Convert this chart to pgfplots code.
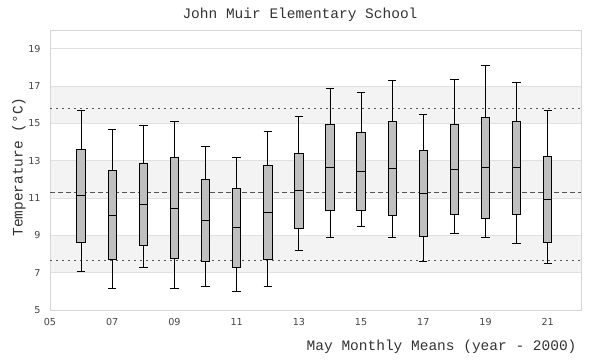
\documentclass[border=0pt]{standalone}
\usepackage{pgfplots}
\pgfplotsset{compat=1.18}
\usepgfplotslibrary{statistics}
\usepackage{fontspec}
\setmainfont{DejaVu Sans}
\newfontfamily\monof{Liberation Mono}
\newfontfamily\tickf{DejaVu Sans}
\definecolor{bandc}{HTML}{F3F3F3}
\definecolor{gridc}{HTML}{E0E0E0}
\definecolor{framec}{HTML}{D6D6D6}
\definecolor{boxc}{HTML}{BFBFBF}
\definecolor{refc}{HTML}{555555}
\definecolor{txtc}{HTML}{333333}
\definecolor{tickc}{HTML}{444444}
\pgfplotsset{
  mybox/.style n args={6}{
    boxplot prepared={
      draw position=#1,
      lower whisker=#2, lower quartile=#3, median=#4,
      upper quartile=#5, upper whisker=#6,
      box extend=0.27, whisker extend=0.27,
      draw direction=y
    },
    draw=black, fill=boxc, line width=0.9bp, solid
  }
}
\begin{document}
\begin{tikzpicture}
\begin{axis}[
  set layers,
  at={(50bp,50bp)}, anchor=south west,
  scale only axis, width=531bp, height=280bp,
  xmin=5, xmax=22.07, ymin=5, ymax=20,
  xtick={5,7,9,11,13,15,17,19,21},
  xticklabels={05,07,09,11,13,15,17,19,21},
  ytick={5,7,9,11,13,15,17,19},
  yticklabels={5,7,9,11,13,15,17,19},
  major tick length=0pt,
  tick label style={font=\tickf\fontsize{9.6bp}{11bp}\selectfont, text=tickc},
  yticklabel style={xshift=-6bp},
  xticklabel style={yshift=-5bp},
  ymajorgrids, grid style={gridc, line width=0.8bp},
  axis line style={framec, line width=0.9bp},
  clip=false,
]
\begin{pgfonlayer}{axis background}
\fill[bandc] (axis cs:5,7) rectangle (axis cs:22.07,9);
\fill[bandc] (axis cs:5,11) rectangle (axis cs:22.07,13);
\fill[bandc] (axis cs:5,15) rectangle (axis cs:22.07,17);
\end{pgfonlayer}
\addplot[refc, line width=1bp, dash pattern=on 2bp off 4bp] coordinates {(5,15.80) (22.07,15.80)};
\addplot[refc, line width=1bp, dash pattern=on 5bp off 3bp] coordinates {(5,11.30) (22.07,11.30)};
\addplot[refc, line width=1bp, dash pattern=on 2bp off 4bp] coordinates {(5,7.66) (22.07,7.66)};
% year, min, q1, median, q3, max
\addplot[mybox={6}{7.07}{8.63}{11.14}{13.61}{15.68}] coordinates {};
\addplot[mybox={7}{6.16}{7.72}{10.07}{12.48}{14.68}] coordinates {};
\addplot[mybox={8}{7.29}{8.47}{10.66}{12.86}{14.89}] coordinates {};
\addplot[mybox={9}{6.16}{7.77}{10.45}{13.18}{15.11}] coordinates {};
\addplot[mybox={10}{6.27}{7.61}{9.82}{12.00}{13.77}] coordinates {};
\addplot[mybox={11}{6.00}{7.29}{9.43}{11.52}{13.18}] coordinates {};
\addplot[mybox={12}{6.27}{7.72}{10.23}{12.75}{14.57}] coordinates {};
\addplot[mybox={13}{8.20}{9.38}{11.41}{13.39}{15.37}] coordinates {};
\addplot[mybox={14}{8.89}{10.34}{12.64}{14.95}{16.87}] coordinates {};
\addplot[mybox={15}{9.50}{10.34}{12.43}{14.52}{16.66}] coordinates {};
\addplot[mybox={16}{8.89}{10.07}{12.59}{15.11}{17.30}] coordinates {};
\addplot[mybox={17}{7.62}{8.95}{11.25}{13.55}{15.48}] coordinates {};
\addplot[mybox={18}{9.11}{10.13}{12.54}{14.95}{17.36}] coordinates {};
\addplot[mybox={19}{8.89}{9.91}{12.64}{15.32}{18.11}] coordinates {};
\addplot[mybox={20}{8.57}{10.13}{12.64}{15.11}{17.20}] coordinates {};
\addplot[mybox={21}{7.50}{8.63}{10.93}{13.23}{15.70}] coordinates {};
\end{axis}
\node[font=\monof\fontsize{14.5bp}{16bp}\selectfont, text=txtc] at (300bp,345bp) {John Muir Elementary School};
\node[font=\monof\fontsize{14.5bp}{16bp}\selectfont, text=txtc, rotate=90] at (19bp,193bp) {Temperature (°C)};
\node[font=\monof\fontsize{14.5bp}{16bp}\selectfont, text=txtc, anchor=east] at (580bp,13bp) {May Monthly Means (year - 2000)};
\pgfresetboundingbox
\path[use as bounding box] (0,0) rectangle (600bp,360bp);
\end{tikzpicture}
\end{document}
